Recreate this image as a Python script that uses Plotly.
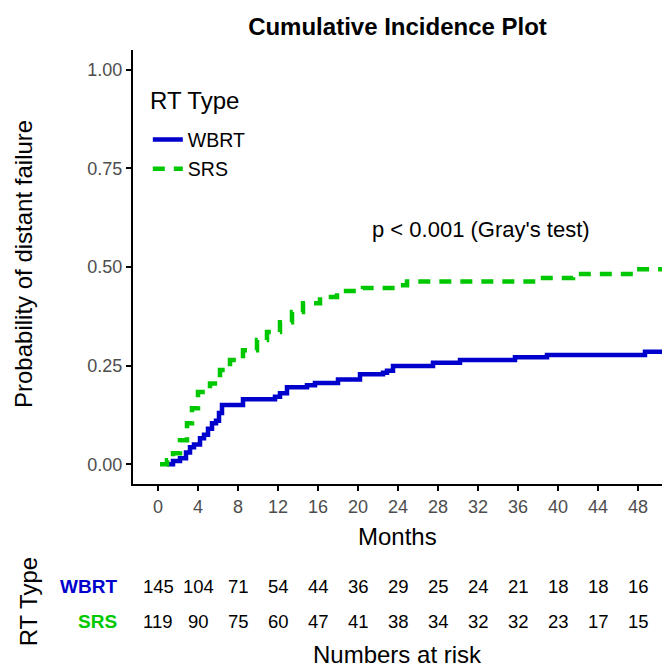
import plotly.graph_objects as go

# ---- data ----
wbrt_t = [0.9, 1.5, 2.2, 2.8, 3.2, 3.6, 4.2, 4.6, 5.0, 5.4, 5.8, 6.1, 6.4, 8.5, 11.7, 12.2, 12.9,
          14.9, 15.7, 18.0, 20.2, 22.5, 22.9, 23.5, 27.5, 30.2, 35.7, 38.9, 48.7, 50.5]
wbrt_p = [0.0, 0.008, 0.015, 0.03, 0.043, 0.05, 0.066, 0.075, 0.09, 0.104, 0.11, 0.13, 0.15, 0.165,
          0.171, 0.18, 0.195, 0.2, 0.206, 0.215, 0.228, 0.232, 0.237, 0.249, 0.257, 0.264, 0.271,
          0.277, 0.285, 0.285]
srs_t = [0.2, 0.9, 1.5, 2.2, 2.9, 3.4, 4.0, 5.2, 6.2, 7.2, 8.5, 9.9, 10.9, 12.2, 13.4, 14.5, 16.2,
         17.9, 20.5, 23.9, 24.9, 37.5, 41.5, 47.5, 50.5]
srs_p = [0.0, 0.01, 0.028, 0.061, 0.104, 0.142, 0.183, 0.205, 0.239, 0.264, 0.289, 0.315, 0.335,
         0.36, 0.386, 0.408, 0.424, 0.439, 0.447, 0.454, 0.463, 0.472, 0.482, 0.494, 0.494]

risk_times = [0, 4, 8, 12, 16, 20, 24, 28, 32, 36, 40, 44, 48]
risk_wbrt = [145, 104, 71, 54, 44, 36, 29, 25, 24, 21, 18, 18, 16]
risk_srs = [119, 90, 75, 60, 47, 41, 38, 34, 32, 32, 23, 17, 15]

y_ticks = [0, 0.25, 0.5, 0.75, 1.0]
y_labels = ["0.00", "0.25", "0.50", "0.75", "1.00"]

BLUE = "#0000CD"
GREEN = "#00C800"
FONT = "Arial, Liberation Sans, sans-serif"

fig = go.Figure()
fig.add_trace(go.Scatter(x=wbrt_t, y=wbrt_p, mode="lines", name="WBRT", legendgroup="a",
                         line=dict(color=BLUE, width=4.5, shape="hv")))
fig.add_trace(go.Scatter(x=srs_t, y=srs_p, mode="lines", name="SRS", legendgroup="b",
                         line=dict(color=GREEN, width=4.5, shape="hv", dash="12px,9px")))


def note(text, x, y, size, color="black", xref="paper", yref="paper", angle=0,
         xanchor="center"):
    return dict(text=text, x=x, y=y, xref=xref, yref=yref, textangle=angle, showarrow=False,
                xanchor=xanchor, yanchor="middle", font=dict(size=size, color=color))


ann = []
ann.append(note("p < 0.001 (Gray's test)", 32.3, 0.595, 22, xref="x", yref="y"))
ann.append(note("Probability of distant failure", -0.206, 0.507, 24, angle=-90))
ann.append(note("Months", 0.5, -0.122, 24))
ann.append(note("RT Type", -0.198, -0.272, 24, angle=-90))
ann.append(note("RT Type", 0.028, 0.884, 24, xanchor="left"))
ann.append(note("<b>WBRT</b>", -0.027, -0.237, 19, color=BLUE, xanchor="right"))
ann.append(note("<b>SRS</b>", -0.027, -0.316, 19, color=GREEN, xanchor="right"))
for t, a, b in zip(risk_times, risk_wbrt, risk_srs):
    ann.append(note(str(a), t, -0.237, 18.5, xref="x"))
    ann.append(note(str(b), t, -0.316, 18.5, xref="x"))
ann.append(note("Numbers at risk", 0.5, -0.394, 24))

fig.update_layout(
    width=662, height=672,
    margin=dict(l=133, r=0, t=50, b=188),
    paper_bgcolor="white", plot_bgcolor="white",
    font=dict(family=FONT),
    title=dict(text="<b>Cumulative Incidence Plot</b>", x=0.5, xref="paper", xanchor="center",
               y=0.961, yanchor="middle", font=dict(size=24, color="black")),
    showlegend=True,
    legend=dict(x=0.028, y=0.838, xanchor="left", yanchor="top", bgcolor="rgba(0,0,0,0)",
                font=dict(size=19.5, color="black"), tracegroupgap=1),
    annotations=ann,
)
fig.update_xaxes(range=[-2.5, 50.4], tickvals=risk_times, showline=True, linecolor="black",
                 linewidth=2, ticks="outside", tickcolor="black", ticklen=5, tickwidth=1.5,
                 showgrid=False, zeroline=False, tickfont=dict(size=18, color="#4d4d4d"))
fig.update_yaxes(range=[-0.05, 1.05], tickvals=y_ticks, ticktext=y_labels, showline=True,
                 linecolor="black", linewidth=2, ticks="outside", tickcolor="black", ticklen=5,
                 tickwidth=1.5, showgrid=False, zeroline=False,
                 tickfont=dict(size=18, color="#4d4d4d"))

fig.write_html("out.html", config={"displayModeBar": False},
               post_script="document.body.style.margin='0px';")
